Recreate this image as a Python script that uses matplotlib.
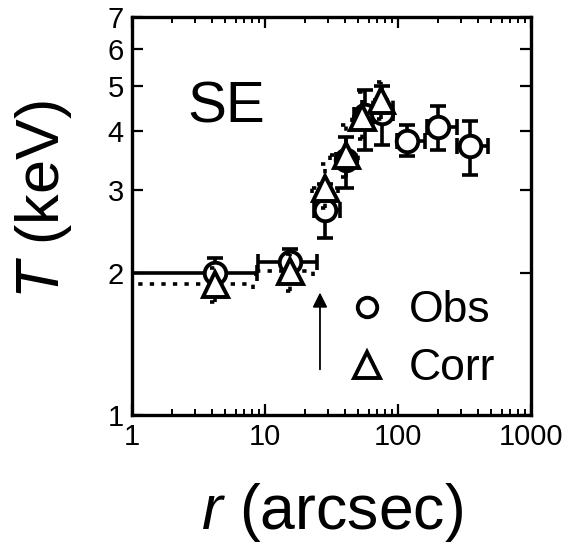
import numpy as np
import matplotlib
matplotlib.use("Agg")
import matplotlib.pyplot as plt
from matplotlib.lines import Line2D
from matplotlib.ticker import FixedLocator, NullFormatter, FixedFormatter, LogLocator

plt.rcParams['font.family'] = ['Liberation Sans', 'DejaVu Sans']
plt.rcParams['mathtext.fontset'] = 'custom'
plt.rcParams['mathtext.it'] = 'Liberation Sans:italic'
plt.rcParams['mathtext.rm'] = 'Liberation Sans'

# Observed temperatures
r_obs = [4.2, 15.4, 28.3, 40.5, 56, 76, 116, 201, 348]
r_obs_lo = [0.5, 8.8, 23.5, 34, 47, 63, 98, 164, 276]
r_obs_hi = [8.7, 24.6, 36.6, 47, 63, 92, 160, 276, 477]
T_obs = [2.0, 2.11, 2.73, 3.48, 4.34, 4.38, 3.81, 4.09, 3.73]
T_obs_lo = [1.86, 1.98, 2.38, 3.03, 3.65, 3.74, 3.54, 3.66, 3.23]
T_obs_hi = [2.15, 2.25, 3.10, 3.90, 4.90, 5.00, 4.13, 4.52, 4.20]

# Corrected temperatures
r_cor = [4.2, 15.4, 28.3, 40.5, 54, 75]
r_cor_lo = [0.5, 8.6, 22.6, 30.8, 44.8, 64.6]
r_cor_hi = [8.1, 23.0, 35.5, 50.0, 63.4, 91.6]
T_cor = [1.90, 2.02, 3.03, 3.56, 4.30, 4.67]
T_cor_lo = [1.74, 1.83, 2.75, 3.20, 3.85, 4.25]
T_cor_hi = [2.05, 2.20, 3.42, 4.13, 4.86, 5.10]

arrow_r = 25.9
arrow_T = [1.25, 1.82]

y_ticks = [1, 2, 3, 4, 5, 6, 7]
x_ticks = [1, 10, 100, 1000]

fig = plt.figure(figsize=(5.68, 5.43), dpi=100)
ax = fig.add_axes([0.2324, 0.2357, 0.7025, 0.733])
ax.set_xscale('log')
ax.set_yscale('log')
ax.set_xlim(1, 1000)
ax.set_ylim(1, 7)

lw = 2.6
mew = 2.8
dot = (0, (1.2, 2.0))

def asym(c, lo, hi):
    c = np.array(c); lo = np.array(lo); hi = np.array(hi)
    return np.vstack([c - lo, hi - c])

# Observed: solid error bars
ax.errorbar(r_obs, T_obs, xerr=asym(r_obs, r_obs_lo, r_obs_hi),
            yerr=asym(T_obs, T_obs_lo, T_obs_hi), fmt='none',
            ecolor='black', elinewidth=lw, capsize=6, capthick=lw, zorder=2)
ax.plot(r_obs, T_obs, 'o', ms=15.5, mfc='white', mec='black', mew=mew,
        linestyle='none', zorder=3)

# Corrected: dotted error bars with dotted caps
eb = ax.errorbar(r_cor, T_cor, xerr=asym(r_cor, r_cor_lo, r_cor_hi),
                 yerr=asym(T_cor, T_cor_lo, T_cor_hi), fmt='none',
                 ecolor='black', elinewidth=lw, capsize=0, zorder=4)
for lc in eb[2]:
    lc.set_linestyle(dot)
    lc.set_capstyle('butt')
cap_dx = 1.08
cap_dy = 1.025
for x, ylo, yhi in zip(r_cor, T_cor_lo, T_cor_hi):
    ax.hlines([ylo, yhi], x / cap_dx, x * cap_dx, colors='black',
              linewidth=lw, linestyles=dot, zorder=4)
for y, xlo, xhi in zip(T_cor, r_cor_lo, r_cor_hi):
    ax.vlines([xlo, xhi], y / cap_dy, y * cap_dy, colors='black',
              linewidth=lw, linestyles=dot, zorder=4)
ax.plot(r_cor, T_cor, '^', ms=18, mfc='white', mec='black', mew=mew,
        linestyle='none', zorder=5)

# Arrow
ax.annotate('', xy=(arrow_r, arrow_T[1]), xytext=(arrow_r, arrow_T[0]),
            arrowprops=dict(arrowstyle='-|>', color='black', lw=1.3,
                            mutation_scale=22, shrinkA=0, shrinkB=0))

# Region label
ax.text(0.138, 0.736, 'SE', transform=ax.transAxes, fontsize=42,
        ha='left', va='baseline')

# Legend
handles = [Line2D([], [], marker='o', ls='none', ms=14, mfc='white', mec='black', mew=mew),
           Line2D([], [], marker='^', ls='none', ms=19, mfc='white', mec='black', mew=mew)]
ax.legend(handles, ['Obs', 'Corr'], loc='lower left', bbox_to_anchor=(0.533, 0.065),
          frameon=False, fontsize=32, handlelength=1.0, handletextpad=0.45,
          labelspacing=0.38, borderpad=0, borderaxespad=0)

# Axes styling
for s in ax.spines.values():
    s.set_linewidth(2.4)
ax.yaxis.set_major_locator(FixedLocator(y_ticks))
ax.yaxis.set_major_formatter(FixedFormatter([str(v) for v in y_ticks]))
ax.yaxis.set_minor_locator(FixedLocator([]))
ax.yaxis.set_minor_formatter(NullFormatter())
ax.xaxis.set_major_locator(FixedLocator(x_ticks))
ax.xaxis.set_major_formatter(FixedFormatter([str(v) for v in x_ticks]))
ax.xaxis.set_minor_locator(LogLocator(base=10, subs=np.arange(2, 10)))
ax.xaxis.set_minor_formatter(NullFormatter())
ax.tick_params(which='both', direction='in', top=True, right=True, labelsize=21)
ax.tick_params(which='major', length=8, width=1.6, pad=6)
ax.tick_params(which='minor', length=4, width=1.4)

ax.set_xlabel(r'$\mathit{r}$ (arcsec)', fontsize=45)
ax.set_ylabel(r'$\mathit{T}$ (keV)', fontsize=44)
ax.xaxis.set_label_coords(0.5, -0.165)
ax.yaxis.set_label_coords(-0.145, 0.54)

fig.savefig('out.png', dpi=100)
